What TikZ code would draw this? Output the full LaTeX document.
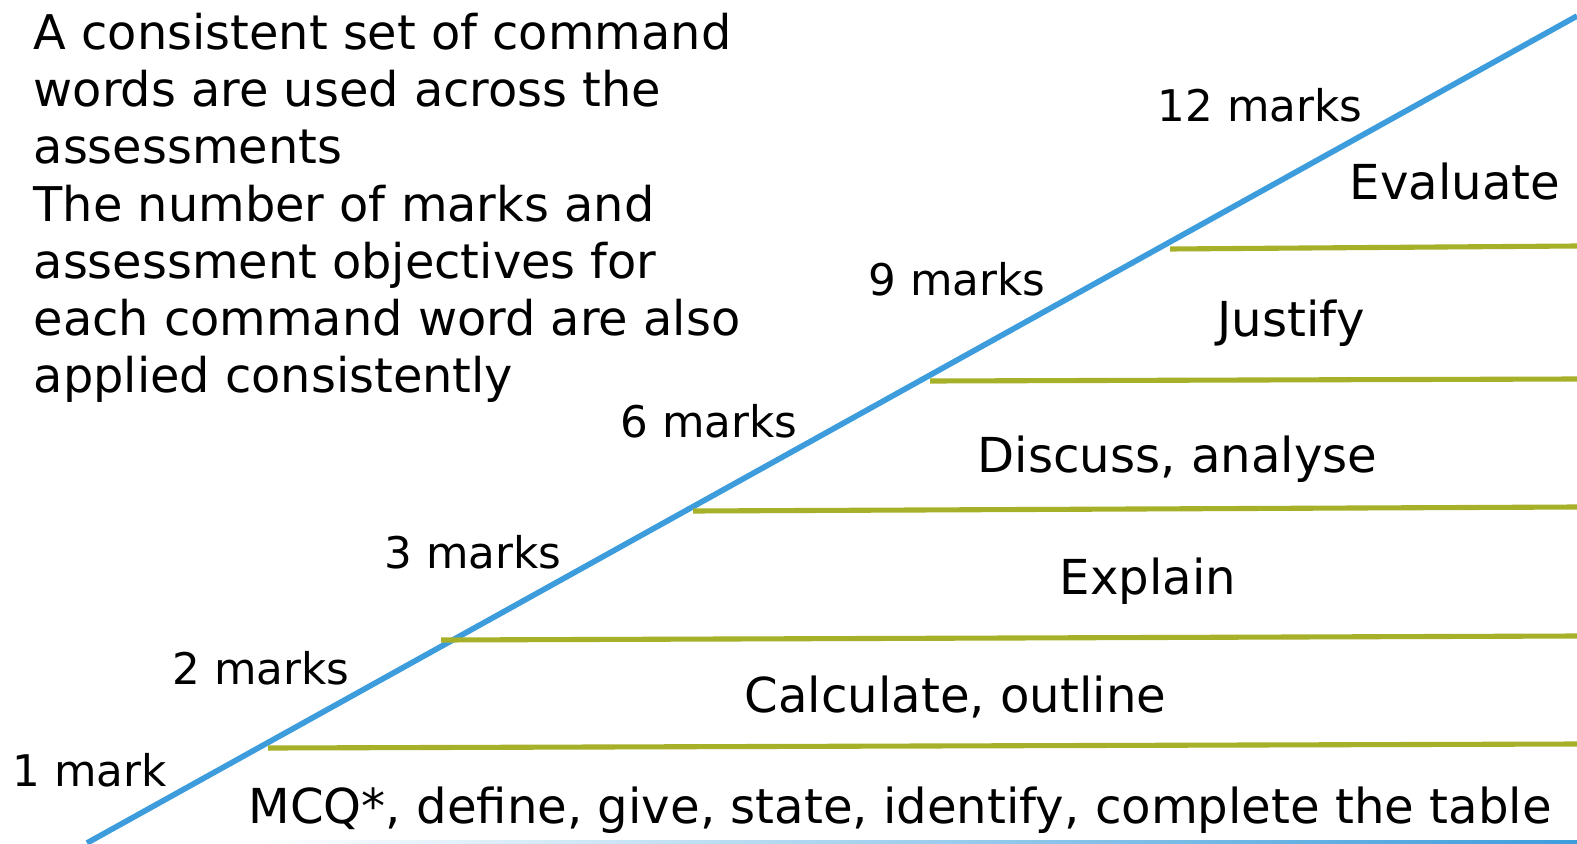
\documentclass[tikz,border=0pt]{standalone}
\usepackage{fontspec}
\setmainfont{DejaVu Sans}
\definecolor{slopeblue}{RGB}{61,157,220}
\definecolor{rungreen}{RGB}{166,176,41}

\begin{document}
\begin{tikzpicture}[x=0.01cm,y=-0.01cm,
    rung/.style={draw=rungreen,line width=1.45pt},
    lbl/.style={inner sep=0pt,anchor=base west,font=\fontsize{12.4}{15}\selectfont},
    word/.style={lbl,font=\fontsize{13.7}{16}\selectfont}]
  \useasboundingbox (0,0) rectangle (1577,843);
  % the slope
  \coordinate (bot) at (87,843);
  \coordinate (top) at (1577,16);
  \draw[slopeblue,line width=1.6pt] (bot) -- (top);
  \shade[left color=white,right color=slopeblue] (260,840.5) rectangle (1577,843);
  % steps
  \foreach \y/\x/\r in {748/268/744, 640/441/636, 511/693/507, 381/930/379, 249/1170/246}{
    \coordinate (s\y) at (\x,\y);
    \coordinate (e\y) at (1577,\r);
    \draw[rung] (s\y) -- (e\y);
  }
  % marks
  \node[lbl] (m12) at (1157,122) {12 marks};
  \node[lbl] (m9) at (868,295) {9 marks};
  \node[lbl] (m6) at (620,437) {6 marks};
  \node[lbl] (m3) at (384,568) {3 marks};
  \node[lbl] (m2) at (172,684) {2 marks};
  \node[lbl] (m1) at (12,786) {1 mark};
  % command words
  \node[word] (w12) at (1349,200) {Evaluate};
  \node[word] (w9) at (1217,337) {Justify};
  \node[word] (w6) at (977,472) {Discuss, analyse};
  \node[word] (w3) at (1059,594) {Explain};
  \node[word] (w2) at (744,712) {Calculate, outline};
  \node[word] (w1) at (248,823) {MCQ*, define, give, state, identify, complete the table};
  % note
  \node[lbl,anchor=north west,align=left,font=\fontsize{13.6}{16.3}\selectfont] (note) at (33,12)
    {A consistent set of command\\words are used across the\\assessments\\The number of marks and\\assessment objectives for\\each command word are also\\applied consistently};
\end{tikzpicture}
\end{document}
